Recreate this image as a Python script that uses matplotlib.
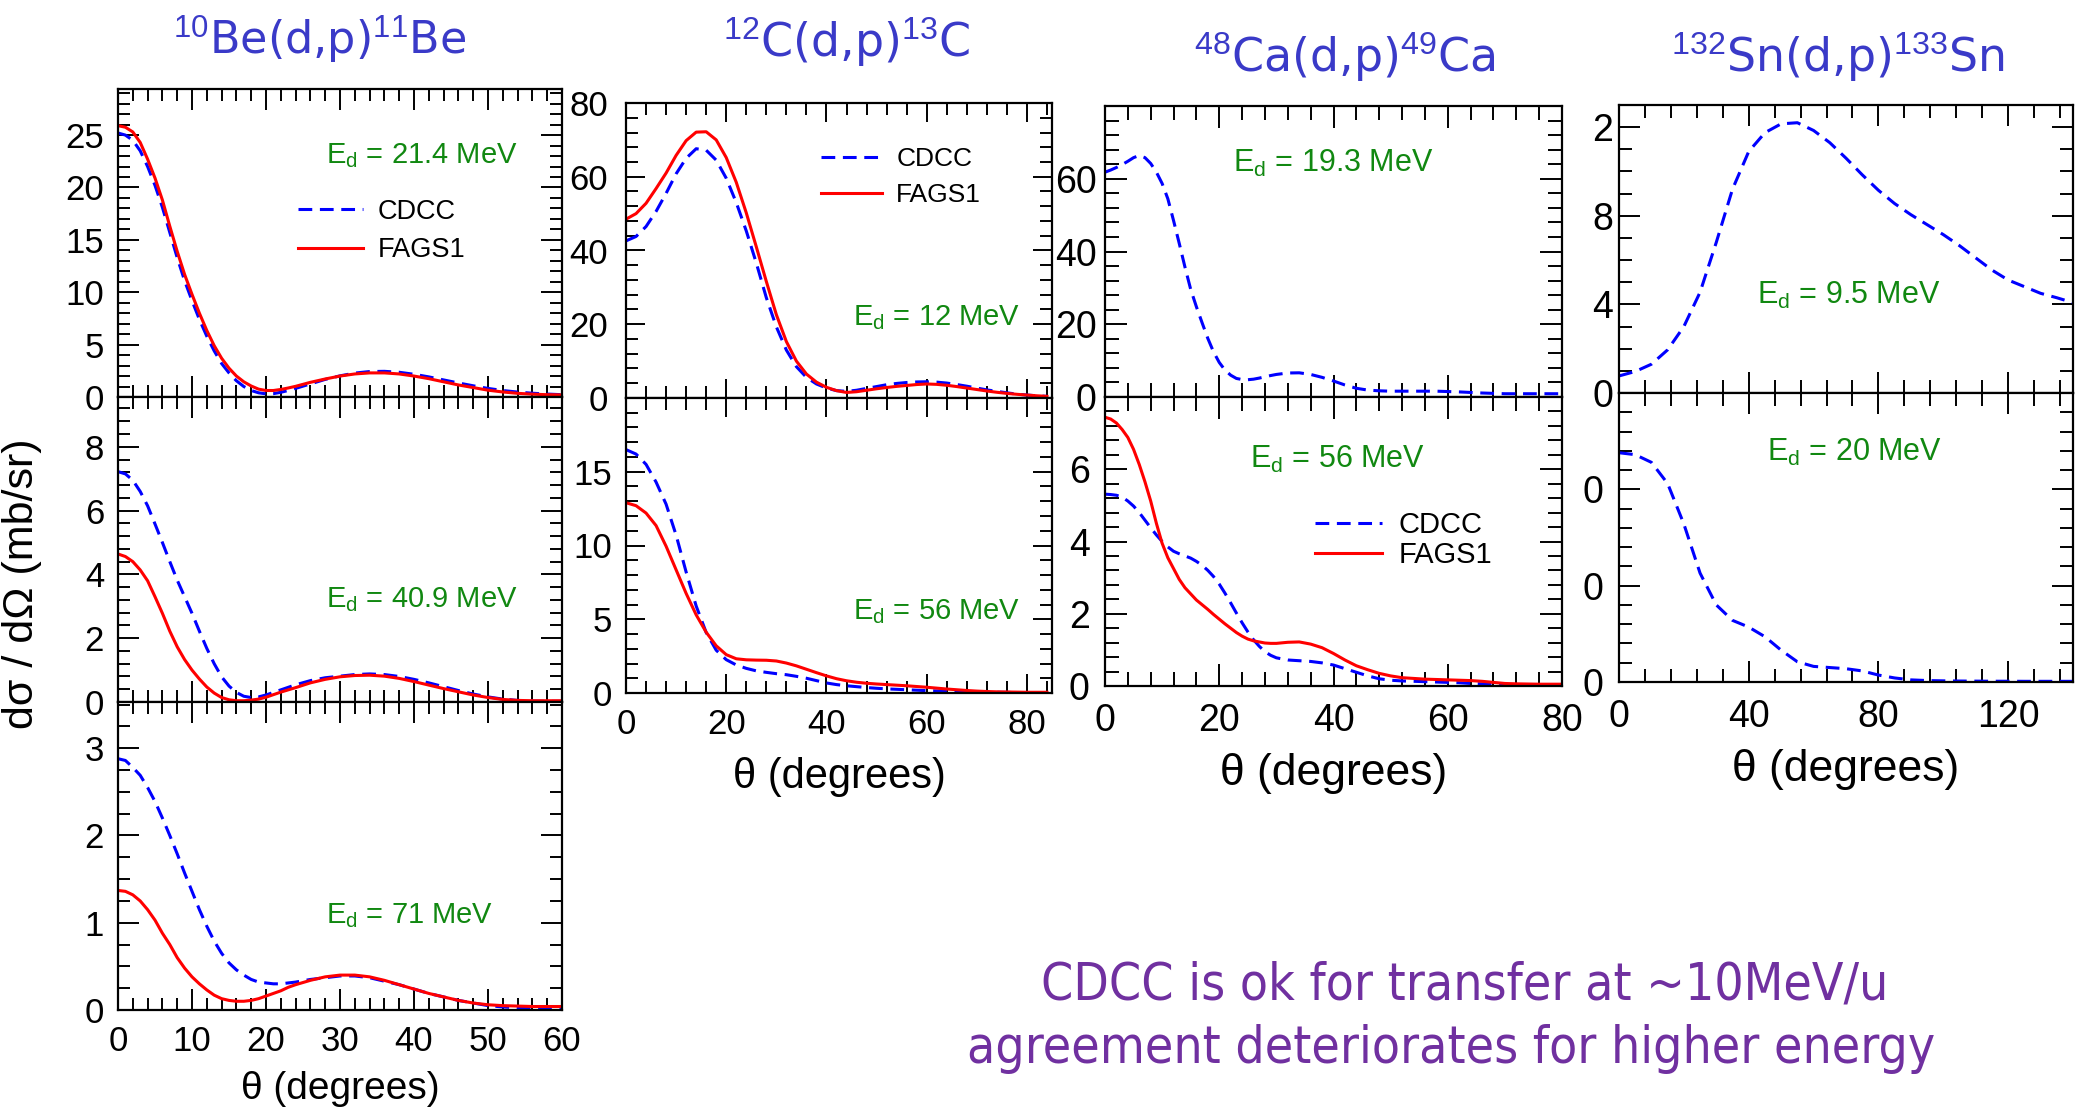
import matplotlib
matplotlib.use("Agg")
import matplotlib.pyplot as plt
from matplotlib.ticker import MultipleLocator

plt.rcParams['font.family'] = ['Liberation Sans', 'DejaVu Sans']
plt.rcParams['mathtext.fontset'] = 'custom'
plt.rcParams['mathtext.rm'] = 'Liberation Sans'
plt.rcParams['mathtext.it'] = 'Liberation Sans:italic'
plt.rcParams['mathtext.bf'] = 'Liberation Sans:bold'

W, H = 2078, 1111
BLUE = '#0000FF'
RED = '#FF0000'
GREEN = '#118811'
TITLE_BLUE = '#3A3AC8'
PURPLE = '#7030A0'
DASH = (0, (4.5, 2.5))

# 10Be(d,p)11Be
be_theta = [0, 1, 2, 3, 4, 5, 6, 7, 8, 9, 10, 11, 12, 13, 14, 15, 16, 17, 18, 19, 20, 21, 22, 23, 24,
            26, 28, 30, 32, 34, 36, 38, 40, 42, 44, 46, 48, 50, 52, 54, 56, 58, 60]
be21_cdcc = [25.2, 25.0, 24.5, 23.5, 22.0, 20.2, 18.1, 15.7, 13.3, 11.1, 9.2, 7.4, 5.8, 4.4, 3.2,
             2.3, 1.55, 1.0, 0.62, 0.4, 0.3, 0.32, 0.45, 0.62, 0.82,
             1.25, 1.68, 2.02, 2.28, 2.43, 2.45, 2.36, 2.17, 1.92, 1.63, 1.34, 1.07, 0.82, 0.62,
             0.47, 0.36, 0.28, 0.22]
be21_fags = [25.9, 25.75, 25.3, 24.3, 22.7, 20.9, 18.8, 16.3, 13.9, 11.7, 9.8, 8.0, 6.35, 4.9, 3.7,
             2.75, 2.0, 1.45, 1.05, 0.75, 0.62, 0.62, 0.72, 0.86, 1.02,
             1.4, 1.72, 2.0, 2.2, 2.3, 2.3, 2.2, 2.0, 1.75, 1.45, 1.15, 0.9, 0.65, 0.48,
             0.35, 0.27, 0.22, 0.2]
be41_cdcc = [7.22, 7.15, 6.95, 6.6, 6.15, 5.58, 5.0, 4.4, 3.82, 3.3, 2.78, 2.22, 1.68, 1.2, 0.79,
             0.5, 0.3, 0.18, 0.14, 0.16, 0.22, 0.3, 0.38, 0.46, 0.54,
             0.67, 0.76, 0.81, 0.86, 0.88, 0.86, 0.8, 0.71, 0.6, 0.48, 0.36, 0.25, 0.16, 0.09,
             0.05, 0.03, 0.02, 0.02]
be41_fags = [4.64, 4.56, 4.4, 4.14, 3.8, 3.3, 2.78, 2.22, 1.73, 1.33, 1.0, 0.72, 0.47, 0.28, 0.14,
             0.07, 0.04, 0.04, 0.06, 0.09, 0.15, 0.23, 0.31, 0.38, 0.45,
             0.6, 0.71, 0.79, 0.83, 0.84, 0.81, 0.74, 0.64, 0.53, 0.42, 0.32, 0.22, 0.14, 0.08,
             0.05, 0.04, 0.04, 0.04]
be71_cdcc = [2.88, 2.86, 2.78, 2.69, 2.55, 2.39, 2.2, 2.0, 1.79, 1.57, 1.36, 1.15, 0.96, 0.79, 0.65,
             0.54, 0.46, 0.4, 0.35, 0.32, 0.31, 0.3, 0.3, 0.31, 0.32,
             0.35, 0.37, 0.39, 0.39, 0.37, 0.33, 0.29, 0.24, 0.19, 0.15, 0.11, 0.08, 0.05, 0.035,
             0.025, 0.015, 0.01, 0.01]
be71_fags = [1.37, 1.36, 1.32, 1.25, 1.15, 1.03, 0.88, 0.75, 0.6, 0.48, 0.38, 0.3, 0.23, 0.17, 0.13,
             0.11, 0.1, 0.1, 0.11, 0.13, 0.16, 0.19, 0.22, 0.26, 0.29,
             0.34, 0.38, 0.4, 0.4, 0.38, 0.34, 0.29, 0.24, 0.19, 0.15, 0.11, 0.08, 0.06, 0.05,
             0.045, 0.04, 0.04, 0.04]

# 12C(d,p)13C
c_theta = [0, 2, 4, 6, 8, 10, 12, 14, 16, 18, 20, 22, 24, 26, 28, 30, 32, 34, 36, 38, 40, 42,
           44, 46, 48, 50, 52, 54, 56, 58, 60, 62, 64, 66, 68, 70, 72, 74, 76, 78, 80, 82, 84]
c12_cdcc = [42.6, 43.8, 46.5, 50.6, 55.5, 60.8, 65.0, 67.6, 67.2, 64.5, 59.6, 53.0, 45.3, 36.6,
            27.2, 19.3, 13.0, 8.5, 5.6, 3.8, 2.7, 2.0, 1.8, 2.1, 2.6, 3.1, 3.6, 3.95, 4.2, 4.35,
            4.4, 4.3, 4.05, 3.65, 3.2, 2.7, 2.2, 1.8, 1.4, 1.05, 0.8, 0.6, 0.45]
c12_fags = [48.5, 50.0, 52.8, 56.8, 61.0, 65.8, 69.8, 72.1, 72.2, 70.0, 65.2, 58.5, 50.2, 41.0,
            31.6, 22.6, 15.3, 10.0, 6.5, 4.3, 2.9, 2.0, 1.5, 1.7, 2.1, 2.5, 2.85, 3.15, 3.4, 3.65,
            3.8, 3.7, 3.45, 3.1, 2.7, 2.3, 1.9, 1.55, 1.25, 1.0, 0.8, 0.6, 0.45]
c56_cdcc = [16.5, 16.2, 15.5, 14.3, 12.8, 10.7, 8.2, 5.9, 4.1, 2.9, 2.26, 1.9, 1.67, 1.5, 1.4,
            1.31, 1.24, 1.13, 1.0, 0.84, 0.68, 0.57, 0.49, 0.43, 0.37, 0.32, 0.28, 0.25, 0.22,
            0.19, 0.16, 0.14, 0.12, 0.1, 0.08, 0.07, 0.06, 0.05, 0.04, 0.03, 0.03, 0.02, 0.02]
c56_fags = [12.9, 12.7, 12.2, 11.35, 9.95, 8.35, 6.75, 5.3, 4.12, 3.2, 2.6, 2.32, 2.25, 2.23,
            2.22, 2.17, 2.03, 1.84, 1.61, 1.38, 1.16, 0.97, 0.83, 0.73, 0.66, 0.61, 0.57, 0.53,
            0.49, 0.44, 0.39, 0.33, 0.27, 0.22, 0.17, 0.13, 0.1, 0.08, 0.07, 0.06, 0.05, 0.05, 0.05]

# 48Ca(d,p)49Ca
ca_theta = [0, 1, 2, 3, 4, 5, 6, 7, 8, 9, 10, 11, 12, 13, 14, 15, 16, 17, 18, 19, 20,
            21, 22, 23, 24, 25, 26, 27, 28, 29, 30, 32, 34, 36, 38, 40, 42, 44, 46, 48, 50,
            52, 54, 56, 58, 60, 62, 64, 66, 68, 70, 72, 74, 76, 78, 80]
ca19_cdcc = [61.8, 62.4, 63.1, 63.9, 64.8, 65.8, 66.4, 65.8, 64.2, 61.8, 58.7, 54.5, 48.5, 42.2,
             35.7, 29.6, 24.8, 20.4, 16.1, 12.4, 9.5, 7.4, 6.0, 5.1, 4.8, 4.75, 4.9, 5.2, 5.55,
             5.9, 6.2, 6.6, 6.65, 6.2, 5.4, 4.4, 3.3, 2.4, 1.9, 1.7, 1.6, 1.6, 1.6, 1.6, 1.6,
             1.5, 1.4, 1.25, 1.1, 1.0, 0.9, 0.9, 0.9, 0.9, 0.9, 0.9]
ca56_cdcc = [5.31, 5.3, 5.28, 5.23, 5.12, 4.98, 4.8, 4.59, 4.38, 4.18, 4.0, 3.85, 3.73, 3.66, 3.6,
             3.54, 3.45, 3.34, 3.2, 3.03, 2.82, 2.57, 2.3, 2.02, 1.75, 1.5, 1.28, 1.1, 0.95, 0.85,
             0.78, 0.72, 0.7, 0.68, 0.64, 0.58, 0.48, 0.38, 0.28, 0.2, 0.16, 0.14, 0.13, 0.12,
             0.11, 0.1, 0.09, 0.07, 0.06, 0.05, 0.04, 0.04, 0.03, 0.03, 0.03, 0.03]
ca56_fags = [7.44, 7.39, 7.28, 7.1, 6.88, 6.55, 6.13, 5.65, 5.12, 4.5, 3.95, 3.55, 3.25, 2.95,
             2.72, 2.55, 2.38, 2.25, 2.12, 1.98, 1.85, 1.72, 1.6, 1.48, 1.38, 1.3, 1.25, 1.22,
             1.19, 1.18, 1.18, 1.21, 1.22, 1.16, 1.06, 0.9, 0.72, 0.56, 0.45, 0.35, 0.28, 0.23,
             0.21, 0.19, 0.18, 0.17, 0.16, 0.15, 0.13, 0.1, 0.07, 0.06, 0.055, 0.05, 0.05, 0.05]

# 132Sn(d,p)133Sn
sn_theta = [0, 5, 10, 15, 20, 25, 30, 35, 40, 45, 50, 55, 60, 65, 70,
            75, 80, 85, 90, 95, 100, 105, 110, 115, 120, 125, 130, 135, 140]
sn95_cdcc = [0.77, 0.97, 1.3, 1.95, 3.0, 4.55, 6.8, 9.2, 10.9, 11.75, 12.15, 12.2, 11.85, 11.3, 10.6,
             9.85, 9.15, 8.55, 8.05, 7.6, 7.15, 6.65, 6.1, 5.55, 5.1, 4.8, 4.5, 4.3, 4.08]
sn20_cdcc = [23.8, 23.6, 22.8, 20.6, 16.4, 11.3, 8.0, 6.4, 5.7, 4.7, 3.3, 2.1, 1.62, 1.5, 1.38,
             1.15, 0.72, 0.42, 0.22, 0.15, 0.12, 0.1, 0.09, 0.08, 0.08, 0.07, 0.07, 0.07, 0.07]
sn_top_labels = ['0', '4', '8', '2']
sn_bot_labels = ['0', '0', '0']

fig = plt.figure(figsize=(W / 100, H / 100), dpi=100)


def box(x0, y0, x1, y1):
    # axes placed by pixel edges, y counted from the top
    return fig.add_axes([x0 / W, 1 - y1 / H, (x1 - x0) / W, (y1 - y0) / H])


def frame(ax, xlim, ylim, xmaj, xmin, yticks, ymin, fs, ticklen, ypad,
          ylabels=None, bottom=False, xpad=10):
    ax.set_xlim(xlim)
    ax.set_ylim(ylim)
    ax.xaxis.set_major_locator(MultipleLocator(xmaj))
    ax.xaxis.set_minor_locator(MultipleLocator(xmin))
    if ylabels is None:
        ylabels = [str(v) for v in yticks]
    ax.set_yticks(yticks, labels=ylabels)
    ax.yaxis.set_minor_locator(MultipleLocator(ymin))
    ax.tick_params(which='both', direction='in', top=True, right=True, width=1.4,
                   labelsize=fs, labelbottom=bottom)
    ax.tick_params(axis='y', pad=ypad)
    ax.tick_params(axis='x', pad=xpad)
    ax.tick_params(which='major', length=ticklen[0])
    ax.tick_params(which='minor', length=ticklen[1])
    for s in ax.spines.values():
        s.set_linewidth(1.6)


def curves(ax, theta, cdcc, fags=None):
    ax.plot(theta, cdcc, color=BLUE, lw=2.2, ls=DASH, label='CDCC')
    if fags is not None:
        ax.plot(theta, fags, color=RED, lw=2.2, label='FAGS1')


def energy(ax, x, y, e, fs):
    ax.text(x, y, r'$\mathrm{E}_\mathrm{d}$ = %s MeV' % e, transform=ax.transAxes,
            color=GREEN, fontsize=fs, ha='left', va='baseline')


def key(ax, x, y, fs, hl, sp):
    ax.legend(loc='center left', bbox_to_anchor=(x, y), frameon=False, fontsize=fs,
              handlelength=hl, handletextpad=0.55, labelspacing=sp,
              borderpad=0, borderaxespad=0)


def xtitle(ax, fs, pad):
    ax.set_xlabel('θ (degrees)', fontsize=fs, labelpad=pad)


# --- Be column
ax = box(118, 89, 562, 397)
frame(ax, (0, 60), (0, 29.4), 10, 2, [0, 5, 10, 15, 20, 25], 1, 25, (15, 8.5), 10)
curves(ax, be_theta, be21_cdcc, be21_fags)
energy(ax, 0.469, 0.760, '21.4', 21)
key(ax, 0.405, 0.539, 19.5, 2.4, 0.45)

ax = box(118, 397, 562, 702)
frame(ax, (0, 60), (0, 9.56), 10, 2, [0, 2, 4, 6, 8], 0.4, 25, (15, 8.5), 10)
curves(ax, be_theta, be41_cdcc, be41_fags)
energy(ax, 0.469, 0.311, '40.9', 21)

ax = box(118, 702, 562, 1010)
frame(ax, (0, 60), (0, 3.53), 10, 2, [0, 1, 2, 3], 0.25, 25, (15, 8.5), 10, bottom=True, xpad=11)
curves(ax, be_theta, be71_cdcc, be71_fags)
energy(ax, 0.469, 0.282, '71', 21)
xtitle(ax, 28, 9)

# --- C column
ax = box(626, 103, 1052, 398)
frame(ax, (0, 85), (0, 80), 20, 4, [0, 20, 40, 60, 80], 4, 25, (13.5, 8.5), 13)
curves(ax, c_theta, c12_cdcc, c12_fags)
energy(ax, 0.532, 0.247, '12', 21)
key(ax, 0.458, 0.749, 19, 2.3, 0.45)

ax = box(626, 398, 1052, 693)
frame(ax, (0, 85), (0, 20), 20, 4, [0, 5, 10, 15], 1, 25, (13.5, 8.5), 10, bottom=True, xpad=11)
curves(ax, c_theta, c56_cdcc, c56_fags)
energy(ax, 0.532, 0.251, '56', 21)
xtitle(ax, 30, 11)

# --- Ca column
ax = box(1105, 106, 1562, 397)
frame(ax, (0, 80), (0, 80), 20, 4, [0, 20, 40, 60], 4, 27, (16, 10), 6)
curves(ax, ca_theta, ca19_cdcc)
energy(ax, 0.279, 0.773, '19.3', 22)

ax = box(1105, 397, 1562, 686)
frame(ax, (0, 80), (0, 8), 20, 4, [0, 2, 4, 6], 0.4, 27, (16, 10), 11, bottom=True, xpad=12)
curves(ax, ca_theta, ca56_cdcc, ca56_fags)
energy(ax, 0.317, 0.754, '56', 22)
key(ax, 0.46, 0.505, 21, 2.3, 0.05)
xtitle(ax, 32, 10)

# --- Sn column
ax = box(1619, 105, 2073, 393)
frame(ax, (0, 140), (0, 13), 40, 8, [0, 4, 8, 12], 1, 27, (15, 9.5), 4, ylabels=sn_top_labels)
curves(ax, sn_theta, sn95_cdcc)
energy(ax, 0.303, 0.309, '9.5', 22)

ax = box(1619, 393, 2073, 682)
frame(ax, (0, 140), (0, 30), 40, 8, [0, 10, 20], 2, 27, (15, 9.5), 11,
      ylabels=sn_bot_labels, bottom=True, xpad=12)
curves(ax, sn_theta, sn20_cdcc)
energy(ax, 0.325, 0.765, '20', 22)
xtitle(ax, 32, 10)

# reaction titles
titles = [(320, 55, r'$^{10}$Be(d,p)$^{11}$Be', 32),
          (847, 57, r'$^{12}$C(d,p)$^{13}$C', 33),
          (1345, 72, r'$^{48}$Ca(d,p)$^{49}$Ca', 33),
          (1838, 72, r'$^{132}$Sn(d,p)$^{133}$Sn', 33)]
for x, y, s, fs in titles:
    fig.text(x / W, 1 - y / H, s, ha='center', va='baseline', fontsize=fs,
             color=TITLE_BLUE, family='DejaVu Sans')

fig.text(22 / W, 1 - 584 / H, 'dσ / dΩ (mb/sr)', rotation=90, ha='center', va='center',
         fontsize=31)

# closing remark, narrow face
fig.text(1465 / W, 1 - 999 / H, 'CDCC is ok for transfer at ~10MeV/u', ha='center',
         va='baseline', color=PURPLE, fontsize=37, family='DejaVu Sans', fontstretch='condensed')
fig.text(1451 / W, 1 - 1063 / H, 'agreement deteriorates for higher energy', ha='center',
         va='baseline', color=PURPLE, fontsize=37, family='DejaVu Sans', fontstretch='condensed')

fig.savefig('out.png', dpi=100)
